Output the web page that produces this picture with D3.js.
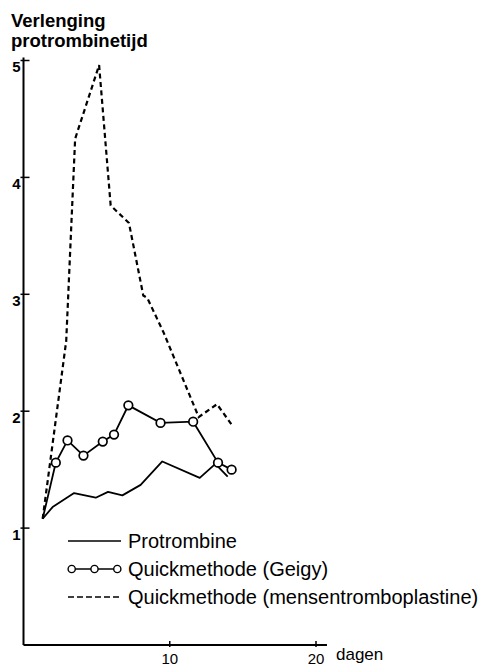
<!DOCTYPE html>
<html><head><meta charset="utf-8">
<script src="https://cdn.jsdelivr.net/npm/d3@7"></script>
<style>body{margin:0;background:#fff}svg{display:block}</style>
</head><body>
<svg id="c" width="483" height="668"></svg>
<script>
// ---- data ----
const protrombineX = [1.31, 1.99, 3.46, 4.94, 5.78, 6.76, 8.01, 9.49, 12.05, 13.12, 13.96];
const protrombineY = [1.08, 1.18, 1.30, 1.26, 1.31, 1.28, 1.37, 1.57, 1.43, 1.55, 1.44];
const geigyX = [1.31, 2.21, 3.01, 4.10, 5.42, 6.19, 7.17, 9.37, 11.60, 13.30, 14.23];
const geigyY = [1.08, 1.56, 1.75, 1.62, 1.74, 1.80, 2.05, 1.90, 1.91, 1.56, 1.50];
const mensX = [1.31, 2.92, 3.53, 5.17, 5.96, 7.21, 8.19, 8.46, 9.59, 11.98, 13.23, 14.26];
const mensY = [1.08, 2.60, 4.33, 4.96, 3.76, 3.61, 2.99, 2.97, 2.67, 1.95, 2.06, 1.88];
const yTicks = [1, 2, 3, 4, 5];
const xTicks = [10, 20];
const legendLabels = ["Protrombine", "Quickmethode (Geigy)", "Quickmethode (mensentromboplastine)"];
const titleLines = ["Verlenging", "protrombinetijd"];
const xAxisLabel = "dagen";

const svg = d3.select("#c");
const x = d3.scaleLinear().domain([0, 20]).range([23.5, 316]);
const y = d3.scaleLinear().domain([0, 5]).range([645, 60.5]);
const font = "'Liberation Sans', Arial, sans-serif";

// axes
svg.append("line").attr("x1", x(0)).attr("x2", x(20.75)).attr("y1", y(0)).attr("y2", y(0))
  .attr("stroke", "#000").attr("stroke-width", 2);
svg.append("line").attr("x1", x(0)).attr("x2", x(0)).attr("y1", y(0)).attr("y2", y(5) - 3)
  .attr("stroke", "#000").attr("stroke-width", 2);

const yt = svg.append("g");
yTicks.forEach(v => {
  yt.append("line").attr("x1", x(0) - 3).attr("x2", x(0) + 6).attr("y1", y(v)).attr("y2", y(v))
    .attr("stroke", "#000").attr("stroke-width", 1.5);
  yt.append("text").attr("x", x(0) - 3).attr("y", y(v) + 11.5).attr("text-anchor", "end")
    .attr("font-family", font).attr("font-weight", "bold").attr("font-size", 15).text(v);
});
const xt = svg.append("g");
xTicks.forEach(v => {
  xt.append("line").attr("x1", x(v)).attr("x2", x(v)).attr("y1", y(0) - 4).attr("y2", y(0) + 2)
    .attr("stroke", "#000").attr("stroke-width", 1.5);
  xt.append("text").attr("x", x(v)).attr("y", 663.5).attr("text-anchor", "middle")
    .attr("font-family", font).attr("font-size", 15).text(v);
});
svg.append("text").attr("x", 336).attr("y", 660).attr("font-family", font).attr("font-size", 17).text(xAxisLabel);

// title
titleLines.forEach((t, i) => {
  svg.append("text").attr("x", 11).attr("y", 27 + i * 20).attr("font-family", font)
    .attr("font-weight", "bold").attr("font-size", 18.5).text(t);
});

// lines
const line = d3.line().x(d => x(d[0])).y(d => y(d[1]));
const pro = protrombineX.map((v, i) => [v, protrombineY[i]]);
const gei = geigyX.map((v, i) => [v, geigyY[i]]);
const men = mensX.map((v, i) => [v, mensY[i]]);

svg.append("path").attr("d", line(men)).attr("fill", "none").attr("stroke", "#000")
  .attr("stroke-width", 2.2).attr("stroke-dasharray", "5,3.5");
svg.append("path").attr("d", line(pro)).attr("fill", "none").attr("stroke", "#000")
  .attr("stroke-width", 1.8).attr("stroke-linejoin", "round");
svg.append("path").attr("d", line(gei)).attr("fill", "none").attr("stroke", "#000")
  .attr("stroke-width", 1.8);
svg.selectAll("circle.g").data(gei.slice(1)).enter().append("circle")
  .attr("cx", d => x(d[0])).attr("cy", d => y(d[1])).attr("r", 4.3)
  .attr("fill", "#fff").attr("stroke", "#000").attr("stroke-width", 1.7);

// legend
const lg = svg.append("g");
const rows = [541, 569, 597];
const lx0 = 68, lx1 = 121;
lg.append("line").attr("x1", lx0).attr("x2", lx1).attr("y1", rows[0]).attr("y2", rows[0])
  .attr("stroke", "#000").attr("stroke-width", 1.4);
lg.append("line").attr("x1", lx0 + 3.7).attr("x2", lx1 - 3.7).attr("y1", rows[1]).attr("y2", rows[1])
  .attr("stroke", "#000").attr("stroke-width", 1.4);
[lx0 + 3.7, (lx0 + lx1) / 2, lx1 - 3.7].forEach(cx => {
  lg.append("circle").attr("cx", cx).attr("cy", rows[1]).attr("r", 3.6)
    .attr("fill", "#fff").attr("stroke", "#000").attr("stroke-width", 1.4);
});
lg.append("line").attr("x1", lx0).attr("x2", lx1).attr("y1", rows[2]).attr("y2", rows[2])
  .attr("stroke", "#000").attr("stroke-width", 1.3).attr("stroke-dasharray", "6,3");
legendLabels.forEach((t, i) => {
  lg.append("text").attr("x", 128).attr("y", rows[i] + 6.5).attr("font-family", font)
    .attr("font-size", 20).text(t);
});
</script>
</body></html>
